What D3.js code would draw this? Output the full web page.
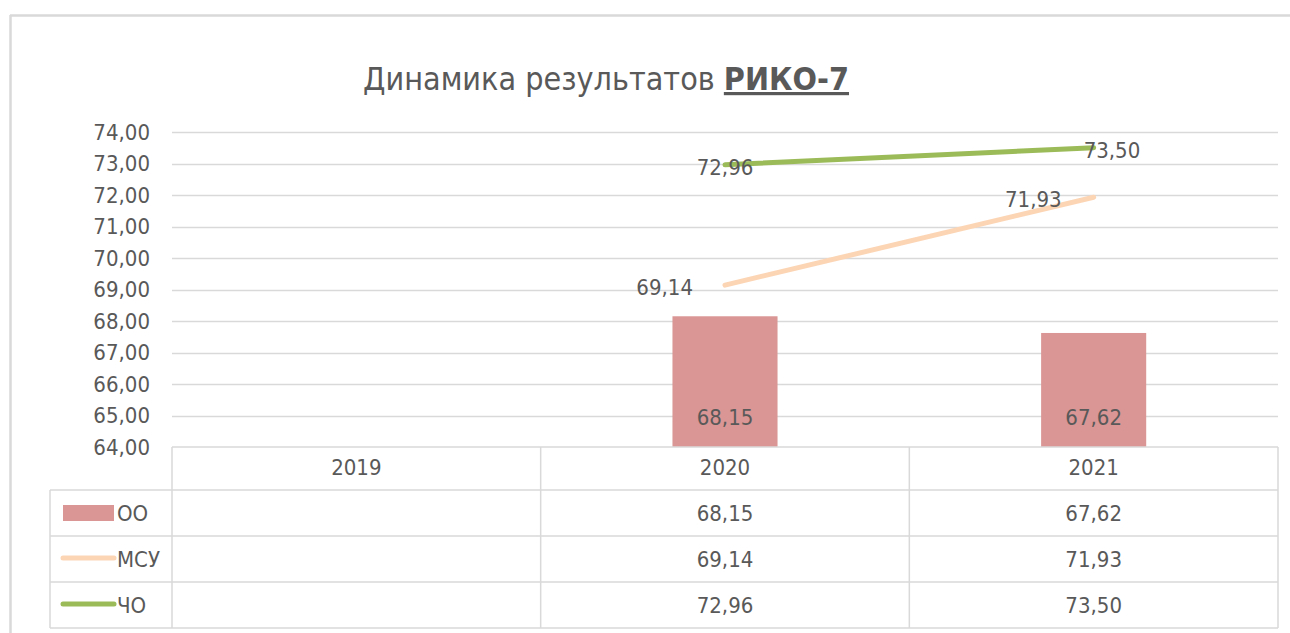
<!DOCTYPE html>
<html>
<head>
<meta charset="utf-8">
<script src="https://cdn.jsdelivr.net/npm/d3@7"></script>
<style>
  html, body { margin: 0; padding: 0; background: #fff; }
  svg { display: block; }
  text { font-family: "Liberation Sans Narrow", "DejaVu Sans Condensed", "Open Sans", sans-serif; fill: #595959; }
</style>
</head>
<body>
<svg id="chart" width="1290" height="633"></svg>
<script>
// chart data
const years = ["2019", "2020", "2021"];
const ooValues = [null, 68.15, 67.62];
const msuValues = [null, 69.14, 71.93];
const choValues = [null, 72.96, 73.50];
const yTicks = [64, 65, 66, 67, 68, 69, 70, 71, 72, 73, 74];
const seriesNames = ["ОО", "МСУ", "ЧО"];

const fmt = v => v == null ? "" : v.toFixed(2).replace(".", ",");

const svg = d3.select("#chart");
const gridColor = "#d9d9d9";
const barColor = "#d99694";
const msuColor = "#fcd5b5";
const choColor = "#9bbb59";

// outer frame (cropped on right / bottom)
svg.append("line").attr("x1", 10).attr("x2", 1290).attr("y1", 15.5).attr("y2", 15.5)
  .attr("stroke", gridColor).attr("stroke-width", 2.5);
svg.append("line").attr("x1", 10.5).attr("x2", 10.5).attr("y1", 15).attr("y2", 633)
  .attr("stroke", gridColor).attr("stroke-width", 2.5);

// title
const title = svg.append("text")
  .attr("x", 606).attr("y", 90)
  .attr("text-anchor", "middle")
  .style("font-size", "32px");
title.append("tspan").text("Динамика результатов ");
title.append("tspan").text("РИКО-7")
  .style("font-weight", "bold")
  .style("text-decoration", "underline");

const x = d3.scaleBand().domain(years).range([172, 1278]).padding(0);
const y = d3.scaleLinear().domain([64, 74]).range([447, 132]);

// gridlines
svg.append("g")
  .selectAll("line")
  .data(yTicks.slice(1))
  .join("line")
  .attr("x1", 172).attr("x2", 1278)
  .attr("y1", d => Math.round(y(d)) + 0.5).attr("y2", d => Math.round(y(d)) + 0.5)
  .attr("stroke", gridColor).attr("stroke-width", 1.5);

// y axis labels
const yAxis = svg.append("g")
  .attr("transform", "translate(160,0)")
  .call(d3.axisLeft(y).tickValues(yTicks).tickFormat(d => fmt(d)).tickSize(0).tickPadding(10));
yAxis.select(".domain").remove();
yAxis.selectAll("text").style("font-size", "22px").attr("fill", "#595959");

// bars
const bw = x.bandwidth() * 0.285;
const barData = years.map((yr, i) => ({ yr, v: ooValues[i] })).filter(d => d.v != null);
svg.append("g")
  .selectAll("rect")
  .data(barData)
  .join("rect")
  .attr("x", d => x(d.yr) + (x.bandwidth() - bw) / 2)
  .attr("width", bw)
  .attr("y", d => y(d.v))
  .attr("height", d => y(64) - y(d.v))
  .attr("fill", barColor);

svg.append("g")
  .selectAll("text")
  .data(barData)
  .join("text")
  .attr("x", d => x(d.yr) + x.bandwidth() / 2)
  .attr("y", y(64) - 22)
  .attr("text-anchor", "middle")
  .style("font-size", "22px")
  .attr("fill", "#404040")
  .text(d => fmt(d.v));

// lines
const cx = yr => x(yr) + x.bandwidth() / 2;
const line = d3.line().x(d => cx(d.yr)).y(d => y(d.v));
const lineSeries = [
  { values: msuValues, color: msuColor, labelDx: [0, -32, -32], labelDy: [0, 10, 10], anchor: [null, "end", "end"] },
  { values: choValues, color: choColor, labelDx: [0, 0, -10], labelDy: [0, 10, 10], anchor: [null, "middle", "start"] }
];
lineSeries.forEach(s => {
  const pts = years.map((yr, i) => ({ yr, v: s.values[i], i })).filter(d => d.v != null);
  svg.append("path")
    .datum(pts)
    .attr("d", line)
    .attr("fill", "none")
    .attr("stroke", s.color)
    .attr("stroke-width", 5)
    .attr("stroke-linecap", "round");
  svg.append("g")
    .selectAll("text")
    .data(pts)
    .join("text")
    .attr("x", d => cx(d.yr) + s.labelDx[d.i])
    .attr("y", d => y(d.v) + s.labelDy[d.i])
    .attr("text-anchor", d => s.anchor[d.i])
    .style("font-size", "22px")
    .attr("fill", "#404040")
    .text(d => fmt(d.v));
});

// data table
const rowTop = 447, headH = 43, rowH = 46;
const tbl = svg.append("g");
const tl = (x1, y1, x2, y2) => tbl.append("line")
  .attr("x1", x1).attr("y1", y1).attr("x2", x2).attr("y2", y2)
  .attr("stroke", gridColor).attr("stroke-width", 1.5);

// header row
tl(172, rowTop, 1278, rowTop);
years.forEach(yr => tl(x(yr), rowTop, x(yr), rowTop + headH + rowH * 3));
tl(1278, rowTop, 1278, rowTop + headH + rowH * 3);
tl(50, rowTop + headH, 50, rowTop + headH + rowH * 3);
for (let r = 0; r <= 3; r++) tl(50, rowTop + headH + rowH * r, 1278, rowTop + headH + rowH * r);

tbl.selectAll(".yr")
  .data(years)
  .join("text")
  .attr("x", d => cx(d))
  .attr("y", rowTop + 28)
  .attr("text-anchor", "middle")
  .style("font-size", "22px")
  .text(d => d);

const rows = [ooValues, msuValues, choValues];
rows.forEach((vals, r) => {
  const ry = rowTop + headH + rowH * r;
  tbl.append("g")
    .selectAll("text")
    .data(years.map((yr, i) => ({ yr, v: vals[i] })))
    .join("text")
    .attr("x", d => cx(d.yr))
    .attr("y", ry + 31)
    .attr("text-anchor", "middle")
    .style("font-size", "22px")
    .text(d => fmt(d.v));

  // legend key
  if (r === 0) {
    tbl.append("rect").attr("x", 63).attr("y", ry + 15).attr("width", 51).attr("height", 16).attr("fill", barColor);
  } else {
    tbl.append("line").attr("x1", 63).attr("x2", 114).attr("y1", ry + 22).attr("y2", ry + 22)
      .attr("stroke", r === 1 ? msuColor : choColor).attr("stroke-width", 5).attr("stroke-linecap", "round");
  }
  tbl.append("text")
    .attr("x", 117).attr("y", ry + 31)
    .style("font-size", "22px")
    .text(seriesNames[r]);
});
</script>
</body>
</html>
